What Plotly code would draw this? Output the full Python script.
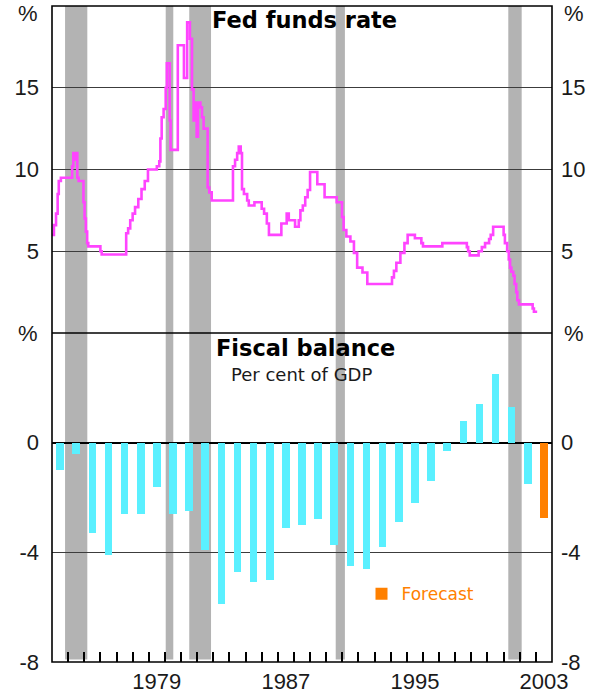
import plotly.graph_objects as go

# ---------------- data ----------------
# Fed funds rate: change points (decimal year, per cent), drawn as a step line
ff_dates = [1973.00, 1973.12, 1973.25, 1973.35, 1973.42, 1973.55, 1974.25, 1974.32, 1974.40, 1974.45,
            1974.57, 1974.65, 1974.95, 1975.02, 1975.10, 1975.18, 1975.25, 1976.00, 1976.08, 1977.60,
            1977.72, 1977.85, 1978.00, 1978.15, 1978.35, 1978.55, 1978.75, 1978.95, 1979.50, 1979.65,
            1979.72, 1979.80, 1979.92, 1980.05, 1980.12, 1980.30, 1980.35, 1980.80, 1981.18, 1981.38,
            1981.55, 1981.68, 1981.78, 1981.88, 1981.97, 1982.05, 1982.20, 1982.30, 1982.40, 1982.65,
            1982.75, 1982.90, 1984.22, 1984.35, 1984.48, 1984.58, 1984.70, 1984.78, 1984.90, 1985.10,
            1985.20, 1985.55, 1986.00, 1986.15, 1986.32, 1986.45, 1987.22, 1987.55, 1987.68, 1988.07,
            1988.30, 1988.40, 1988.55, 1988.70, 1988.85, 1989.00, 1989.45, 1989.90, 1990.65, 1990.98,
            1991.08, 1991.25, 1991.50, 1991.72, 1991.92, 1992.25, 1992.55, 1994.08, 1994.20, 1994.35,
            1994.60, 1994.85, 1995.05, 1995.50, 1995.90, 1996.00, 1997.20, 1998.72, 1998.80, 1998.90,
            1999.45, 1999.65, 1999.85, 2000.10, 2000.20, 2000.35, 2001.00, 2001.08, 2001.22, 2001.32,
            2001.40, 2001.48, 2001.60, 2001.68, 2001.78, 2001.85, 2001.95, 2002.80, 2002.88, 2003.08]
ff_rates = [6.0, 6.6, 7.3, 8.5, 9.3, 9.5, 10.2, 11.0, 10.6, 11.0,
            9.5, 9.3, 8.0, 7.0, 6.2, 5.5, 5.3, 5.0, 4.8, 6.1,
            6.4, 6.9, 7.3, 7.7, 8.2, 8.8, 9.3, 10.0, 10.2, 10.5,
            11.9, 13.2, 13.7, 15.0, 16.5, 13.0, 11.2, 17.6, 15.6, 19.0,
            18.0, 14.9, 13.0, 14.1, 12.0, 14.1, 13.8, 13.2, 12.5, 8.9,
            8.6, 8.1, 10.2, 10.6, 11.0, 11.4, 11.0, 8.8, 8.5, 8.1,
            7.8, 8.0, 7.6, 7.3, 6.7, 6.0, 6.7, 7.3, 6.9, 6.5,
            6.9, 7.5, 7.8, 8.3, 8.75, 9.85, 9.1, 8.3, 8.0, 7.1,
            6.3, 5.9, 5.6, 4.9, 4.0, 3.7, 3.0, 3.4, 3.8, 4.3,
            4.9, 5.5, 6.0, 5.8, 5.5, 5.3, 5.5, 5.25, 5.0, 4.75,
            5.0, 5.25, 5.5, 5.75, 6.0, 6.5, 6.0, 5.5, 5.0, 4.5,
            4.0, 3.75, 3.5, 3.0, 2.5, 2.0, 1.75, 1.5, 1.3, 1.3]

# Fiscal balance, per cent of GDP (fiscal years)
fiscal_years = list(range(1973, 2003))
fiscal_balance = [-1.0, -0.4, -3.3, -4.1, -2.6, -2.6, -1.6, -2.6, -2.5, -3.9,
                  -5.9, -4.7, -5.1, -5.0, -3.1, -3.0, -2.8, -3.75, -4.5, -4.6,
                  -3.8, -2.9, -2.2, -1.4, -0.3, 0.8, 1.4, 2.5, 1.3, -1.5]
forecast_years = [2003]
forecast_balance = [-2.75]

# Recessions (decimal years)
recession_start = [1973.81, 1980.05, 1981.51, 1990.59, 2001.29]
recession_end = [1975.19, 1980.52, 1982.86, 1991.16, 2002.12]

x_tick_years = [1979, 1987, 1995, 2003]
year_ticks = list(range(1974, 2004))

# ---------------- style ----------------
MAGENTA = "#ff44ff"
CYAN = "#5af0ff"
ORANGE = "#ff8000"
GREY = "#b3b3b3"
TXT = "#1a1a1a"
TICKFONT = dict(family="Liberation Sans, Arial, sans-serif", size=22, color=TXT)
SPLIT = 0.5015

fig = go.Figure()

fig.add_trace(go.Scatter(
    x=ff_dates, y=ff_rates, mode="lines", line=dict(color=MAGENTA, width=2.6, shape="hv"),
    xaxis="x", yaxis="y", showlegend=False, hoverinfo="skip"))

fig.add_trace(go.Bar(
    x=[y + 0.5 for y in fiscal_years], y=fiscal_balance, width=0.47,
    marker=dict(color=CYAN, line=dict(width=0)), xaxis="x", yaxis="y2", showlegend=False))

fig.add_trace(go.Bar(
    x=[y + 0.5 for y in forecast_years], y=forecast_balance, width=0.47, name="Forecast",
    marker=dict(color=ORANGE, line=dict(width=0)), xaxis="x", yaxis="y2", showlegend=True))

# invisible traces so the right-hand axes are drawn
fig.add_trace(go.Scatter(x=[1980], y=[5], yaxis="y3", xaxis="x", mode="markers",
                         marker=dict(opacity=0), showlegend=False, hoverinfo="skip"))
fig.add_trace(go.Scatter(x=[1980], y=[0], yaxis="y4", xaxis="x", mode="markers",
                         marker=dict(opacity=0), showlegend=False, hoverinfo="skip"))

shapes = []
for s, e in zip(recession_start, recession_end):
    shapes.append(dict(type="rect", xref="x", yref="paper", x0=s, x1=e, y0=0.004, y1=1,
                       fillcolor=GREY, line=dict(width=0), layer="below"))
# panel divider
shapes.append(dict(type="line", xref="paper", yref="paper", x0=0, x1=1, y0=SPLIT, y1=SPLIT,
                   line=dict(color="black", width=1.6)))
# frame
shapes.append(dict(type="rect", xref="paper", yref="paper", x0=0, x1=1, y0=0, y1=1,
                   line=dict(color="black", width=1.6)))

annotations = [
    dict(text="<b>Fed funds rate</b>", xref="paper", yref="paper", x=0.504, y=0.979,
         yanchor="middle", showarrow=False,
         font=dict(family="DejaVu Sans", size=22.5, color="black")),
    dict(text="<b>Fiscal balance</b>", xref="paper", yref="paper", x=0.506, y=0.479,
         yanchor="middle", showarrow=False,
         font=dict(family="DejaVu Sans", size=22.5, color="black")),
    dict(text="Per cent of GDP", xref="paper", yref="paper", x=0.499, y=0.439,
         yanchor="middle", showarrow=False,
         font=dict(family="DejaVu Sans", size=18, color=TXT)),
]
for side, xa, xs in (("left", 0, -12), ("right", 1, 10)):
    for yy in (0.988, SPLIT):
        annotations.append(dict(text="%", xref="paper", yref="paper", x=xa, y=yy,
                                xanchor="right" if side == "left" else "left", xshift=xs,
                                yanchor="middle", showarrow=False, font=TICKFONT))

fig.update_layout(
    width=591, height=693,
    margin=dict(l=52, r=39, t=6, b=31, autoexpand=False),
    paper_bgcolor="white", plot_bgcolor="white",
    bargap=0,
    shapes=shapes, annotations=annotations,
    legend=dict(x=0.619, y=0.1035, xanchor="left", yanchor="middle",
                bgcolor="rgba(0,0,0,0)", borderwidth=0,
                font=dict(family="DejaVu Sans", size=17, color=ORANGE),
                itemwidth=30, tracegroupgap=0),
    xaxis=dict(domain=[0, 1], range=[1973, 2004], anchor="y2", automargin=False,
               tickmode="array", tickvals=[y + 0.5 for y in x_tick_years],
               ticktext=[str(y) for y in x_tick_years],
               ticks="", showgrid=False, zeroline=False, showline=False,
               tickfont=TICKFONT, ticklabelstandoff=4,
               minor=dict(tickmode="array", tickvals=year_ticks, ticks="inside",
                          ticklen=10, tickcolor="black", tickwidth=1.5, showgrid=False)),
    yaxis=dict(domain=[SPLIT, 1], range=[0, 20], anchor="x", automargin=False,
               tickmode="array", tickvals=[5, 10, 15], ticktext=["5", "10", "15"],
               showgrid=True, gridcolor="#3c3c3c", gridwidth=1.3, zeroline=False,
               ticks="", showline=False, tickfont=TICKFONT, ticklabelstandoff=12),
    yaxis3=dict(overlaying="y", side="right", matches="y", anchor="x", automargin=False,
                tickmode="array", tickvals=[5, 10, 15], ticktext=["5", "10", "15"],
                showgrid=False, zeroline=False, ticks="", showline=False,
                tickfont=TICKFONT, ticklabelstandoff=8),
    yaxis2=dict(domain=[0, SPLIT], range=[-8, 4], anchor="x", automargin=False,
                tickmode="array", tickvals=[-8, -4, 0], ticktext=["-8", "-4", "0"],
                showgrid=True, gridcolor="#3c3c3c", gridwidth=1.3,
                zeroline=True, zerolinecolor="black", zerolinewidth=1.6,
                ticks="", showline=False, tickfont=TICKFONT, ticklabelstandoff=12),
    yaxis4=dict(overlaying="y2", side="right", matches="y2", anchor="x", automargin=False,
                tickmode="array", tickvals=[-8, -4, 0], ticktext=["-8", "-4", "0"],
                showgrid=False, zeroline=False, ticks="", showline=False,
                tickfont=TICKFONT, ticklabelstandoff=8),
)

# remove the browser's default page margin so the figure fills the window exactly
fig.write_html("out.html", config={"displayModeBar": False},
               post_script="document.body.style.margin='0';document.body.style.padding='0';")
